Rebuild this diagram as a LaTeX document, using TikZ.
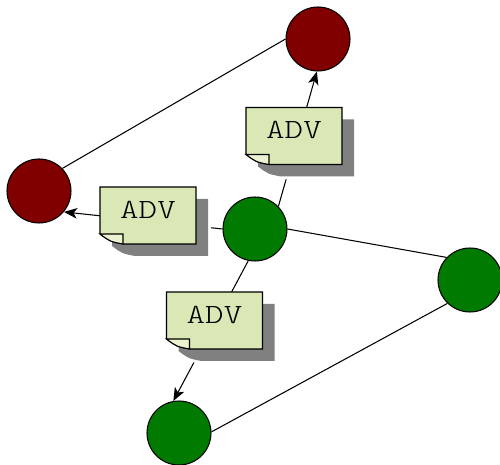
\documentclass[tikz,border=0pt]{standalone}
\usepackage{fontspec}
\usetikzlibrary{arrows.meta}
\newfontfamily\notefont{lmmonolt10-regular}[Extension=.otf,FakeStretch=1.27]
\definecolor{ballred}{RGB}{128,0,0}
\definecolor{ballgreen}{RGB}{0,122,0}
\definecolor{notefill}{RGB}{217,232,180}
\definecolor{foldfill}{RGB}{236,242,208}
\definecolor{notegray}{RGB}{128,128,128}

\begin{document}
\begin{tikzpicture}[x=0.02cm,y=-0.02cm,
    ball/.style={circle,draw=black,line width=0.6pt,minimum size=1.28cm,inner sep=0pt},
    redball/.style={ball,fill=ballred},
    greenball/.style={ball,fill=ballgreen},
    link/.style={line width=0.6pt},
    arc/.style={link,-{Stealth[length=7.5pt,width=6pt,inset=2pt]}},
    note/.style={minimum width=1.92cm,minimum height=1.14cm,inner sep=0pt,
      font=\notefont\fontsize{15.8}{16}\selectfont,text height=9.7pt,text depth=6.3pt}]
  \useasboundingbox (0,0) rectangle (500,465);
  \node[redball] (rt) at (318,39) {};
  \node[redball] (rl) at (39,191) {};
  \node[greenball] (gc) at (255,229) {};
  \node[greenball] (gr) at (470,280) {};
  \node[greenball] (gb) at (179,433) {};
  \draw[link] (rl.44) -- (rt.180);
  \draw[link] (gc.0) -- (gr.136);
  \draw[link] (gr.226) -- (gb.2);
  \draw[arc] (gc.44) -- (rt.268);
  \draw[arc] (gc.180) -- (rl.-40);
  \draw[arc] (gc.258) -- (gb.100);
  \foreach \nm/\x/\y in {n1/294/136, n2/148/215.5, n3/214.5/320.5} {
    \begin{scope}[shift={(\x,\y)}]
      \fill[notegray,preaction={draw=white,line width=3.4pt}]
        (-36,-16.5) -- (60,-16.5) -- (60,40.5) -- (-13,40.5)
        .. controls (-26,38) .. (-36,30.5) -- cycle;
      \draw[link,fill=notefill] (-48,-28.5) -- (48,-28.5) -- (48,28.5) -- (-25,28.5)
        .. controls (-38,26) .. (-48,18.5) -- cycle;
      \draw[link,fill=foldfill] (-48,18.5) -- (-25,18.5) -- (-25,28.5)
        .. controls (-38,26) .. (-48,18.5) -- cycle;
      \node[note] (\nm) at (0,0) {ADV};
    \end{scope}
  }
\end{tikzpicture}
\end{document}
